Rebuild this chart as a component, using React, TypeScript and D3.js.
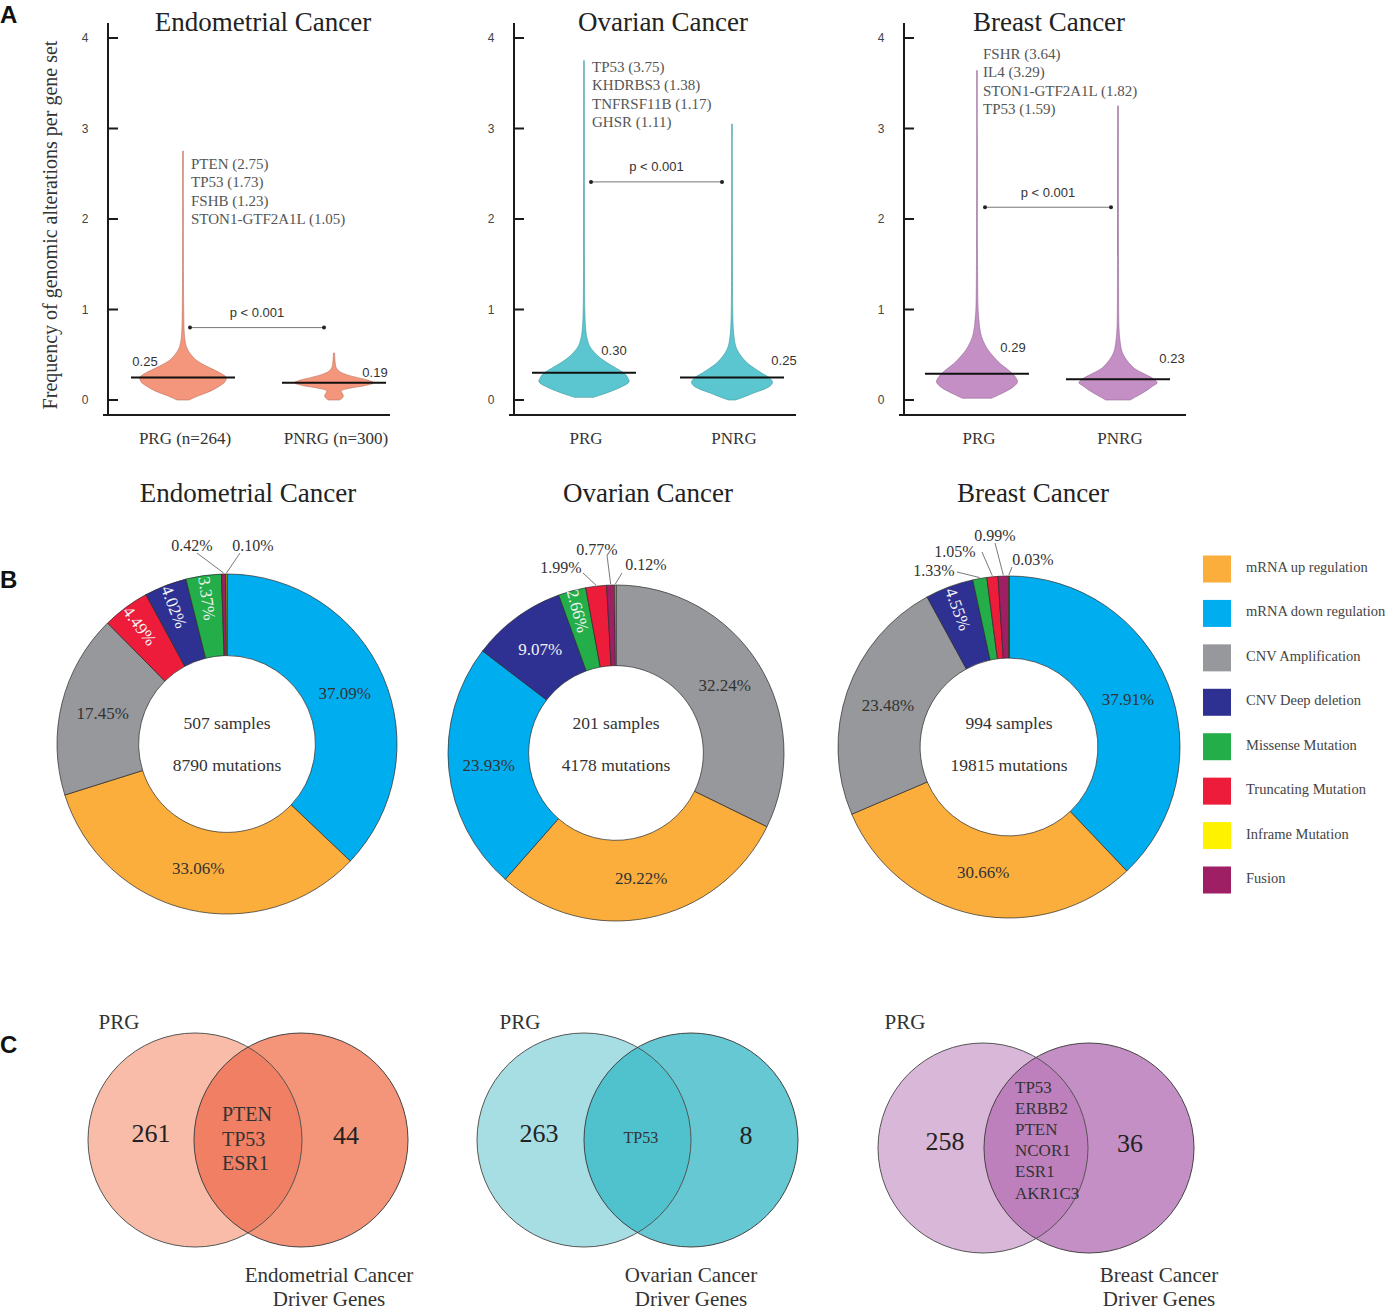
import React from "react";
import * as d3 from "d3";

const SERIF = "'Liberation Serif','Times New Roman',serif";
const SANS = "'Liberation Sans',Arial,sans-serif";

// ---------------- Panel A data ----------------
const cancerTypes = ["Endometrial Cancer", "Ovarian Cancer", "Breast Cancer"];
const groupLabelsEndo = ["PRG (n=264)", "PNRG (n=300)"];
const groupLabelsOvar = ["PRG", "PNRG"];
const groupLabelsBrca = ["PRG", "PNRG"];
const mediansEndo = [0.25, 0.19];
const mediansOvar = [0.3, 0.25];
const mediansBrca = [0.29, 0.23];
const medianLabelsEndo = ["0.25", "0.19"];
const medianLabelsOvar = ["0.30", "0.25"];
const medianLabelsBrca = ["0.29", "0.23"];
const topGenesEndo = ["PTEN (2.75)", "TP53 (1.73)", "FSHB (1.23)", "STON1-GTF2A1L (1.05)"];
const topGenesOvar = ["TP53 (3.75)", "KHDRBS3 (1.38)", "TNFRSF11B (1.17)", "GHSR (1.11)"];
const topGenesBrca = ["FSHR (3.64)", "IL4 (3.29)", "STON1-GTF2A1L (1.82)", "TP53 (1.59)"];
const yTicksA = [0, 1, 2, 3, 4];
const pValueLabel = "p < 0.001";
const bracketLevels = [0.8, 2.41, 2.13];
const yAxisTitle = "Frequency of genomic alterations per gene set";

// violin density profiles: [value, relative half-width]
const violinEndoPRG: [number, number][] = [
  [0, 0.13], [0.05, 0.36], [0.1, 0.62], [0.15, 0.8], [0.2, 0.93], [0.25, 0.96], [0.3, 0.82],
  [0.35, 0.62], [0.4, 0.42], [0.45, 0.27], [0.5, 0.18], [0.55, 0.11], [0.6, 0.07], [0.7, 0.035],
  [1.0, 0.016], [2.75, 0.009],
];
const violinEndoPNRG: [number, number][] = [
  [0, 0.12], [0.03, 0.2], [0.06, 0.2], [0.1, 0.16], [0.13, 0.35], [0.16, 0.7], [0.19, 0.88],
  [0.22, 0.75], [0.25, 0.5], [0.28, 0.28], [0.31, 0.14], [0.34, 0.07], [0.37, 0.04], [0.42, 0.025],
  [0.52, 0.012],
];
const violinOvarPRG: [number, number][] = [
  [0.03, 0.22], [0.06, 0.4], [0.1, 0.62], [0.15, 0.85], [0.2, 1.0], [0.25, 0.97], [0.3, 0.88],
  [0.35, 0.72], [0.4, 0.55], [0.45, 0.4], [0.5, 0.28], [0.55, 0.19], [0.6, 0.12], [0.7, 0.06],
  [0.8, 0.035], [1.0, 0.018], [1.5, 0.011], [3.75, 0.008],
];
const violinOvarPNRG: [number, number][] = [
  [0, 0.08], [0.04, 0.3], [0.08, 0.5], [0.12, 0.72], [0.16, 0.86], [0.2, 0.9], [0.25, 0.82],
  [0.3, 0.65], [0.35, 0.5], [0.4, 0.36], [0.45, 0.26], [0.5, 0.18], [0.55, 0.12], [0.6, 0.08],
  [0.7, 0.045], [0.8, 0.028], [1.0, 0.016], [3.05, 0.008],
];
const violinBrcaPRG: [number, number][] = [
  [0.02, 0.33], [0.06, 0.5], [0.1, 0.66], [0.15, 0.82], [0.2, 0.9], [0.25, 0.86], [0.3, 0.77],
  [0.35, 0.65], [0.4, 0.52], [0.45, 0.42], [0.5, 0.33], [0.55, 0.25], [0.6, 0.19], [0.7, 0.1],
  [0.8, 0.06], [0.9, 0.04], [1.0, 0.025], [1.5, 0.012], [3.64, 0.008],
];
const violinBrcaPNRG: [number, number][] = [
  [0, 0.27], [0.05, 0.45], [0.1, 0.62], [0.15, 0.76], [0.19, 0.87], [0.23, 0.8], [0.27, 0.66],
  [0.31, 0.5], [0.35, 0.36], [0.4, 0.26], [0.45, 0.18], [0.5, 0.12], [0.55, 0.08], [0.6, 0.06],
  [0.7, 0.035], [0.8, 0.022], [1.0, 0.015], [3.25, 0.008],
];

// ---------------- Panel B data ----------------
const alterationTypes = [
  "mRNA up regulation", "mRNA down regulation", "CNV Amplification", "CNV Deep deletion",
  "Missense Mutation", "Truncating Mutation", "Inframe Mutation", "Fusion",
];
const alterationColors = ["#FBAE3C", "#00AEEF", "#96989B", "#2E3192", "#23AE4A", "#ED1C3A", "#FFF200", "#9E1F63"];
const pieOrderEndo = ["mRNA down regulation", "mRNA up regulation", "CNV Amplification", "Truncating Mutation", "CNV Deep deletion", "Missense Mutation", "Fusion", "Inframe Mutation"];
const pieValuesEndo = [37.09, 33.06, 17.45, 4.49, 4.02, 3.37, 0.42, 0.1];
const pieOrderOvar = ["CNV Amplification", "mRNA up regulation", "mRNA down regulation", "CNV Deep deletion", "Missense Mutation", "Truncating Mutation", "Fusion", "Inframe Mutation"];
const pieValuesOvar = [32.24, 29.22, 23.93, 9.07, 2.66, 1.99, 0.77, 0.12];
const pieOrderBrca = ["mRNA down regulation", "mRNA up regulation", "CNV Amplification", "CNV Deep deletion", "Missense Mutation", "Truncating Mutation", "Fusion", "Inframe Mutation"];
const pieValuesBrca = [37.91, 30.66, 23.48, 4.55, 1.33, 1.05, 0.99, 0.03];
const sampleCounts = [507, 201, 994];
const mutationCounts = [8790, 4178, 19815];

// ---------------- Panel C data ----------------
const vennLeftCounts = [261, 263, 258];
const vennRightCounts = [44, 8, 36];
const vennSharedEndo = ["PTEN", "TP53", "ESR1"];
const vennSharedOvar = ["TP53"];
const vennSharedBrca = ["TP53", "ERBB2", "PTEN", "NCOR1", "ESR1", "AKR1C3"];
const vennLeftName = "PRG";
const vennRightNames = ["Endometrial Cancer", "Ovarian Cancer", "Breast Cancer"];

// ---------------- layout ----------------
const panelALayout = [
  { axisX: 108, offs: [75, 226], fill: "#F4967B", stroke: "#B9705C", geneX: 8, geneY: 164, titleX: 263,
    mlab: [[-38, -16], [41, -10]], bracket: [7, -10] },
  { axisX: 514, offs: [70, 218], fill: "#5CC6D0", stroke: "#3E98A0", geneX: 8, geneY: 67, titleX: 663,
    mlab: [[30, -22], [52, -17]], bracket: [7, -10] },
  { axisX: 904, offs: [73, 214], fill: "#C48FC4", stroke: "#946894", geneX: 6, geneY: 54, titleX: 1049,
    mlab: [[36, -26], [54, -21]], bracket: [8, -7] },
];
const panelAData = [
  { labels: groupLabelsEndo, med: mediansEndo, mlabels: medianLabelsEndo, genes: topGenesEndo, v: [violinEndoPRG, violinEndoPNRG] },
  { labels: groupLabelsOvar, med: mediansOvar, mlabels: medianLabelsOvar, genes: topGenesOvar, v: [violinOvarPRG, violinOvarPNRG] },
  { labels: groupLabelsBrca, med: mediansBrca, mlabels: medianLabelsBrca, genes: topGenesBrca, v: [violinBrcaPRG, violinBrcaPNRG] },
];

// label styles per slice: h = horizontal inside, r = rotated inside, o = outside [textDx, textDy, lineDx, lineDy]
const pieLayout = [
  { cx: 227, cy: 744, R: 170, titleX: 248,
    styles: ["h", "h", "h", "r", "r", "r", [-35, -199, -30, -191], [26, -199, 13, -191]] },
  { cx: 616, cy: 753, R: 168, titleX: 648,
    styles: ["h", "h", "h", "h", "r", [-55, -186, -33, -180], [-19, -204, -9, -198], [30, -189, 6, -180]] },
  { cx: 1009, cy: 747, R: 171, titleX: 1033,
    styles: ["h", "h", "h", "r", [-75, -177, -52, -175], [-54, -196, -27, -195], [-14, -212, -14, -204], [24, -188, 3, -180]] },
];
const pieCenterTextY = [723, 765];
const pieData = [
  { order: pieOrderEndo, values: pieValuesEndo },
  { order: pieOrderOvar, values: pieValuesOvar },
  { order: pieOrderBrca, values: pieValuesBrca },
];

const vennLayout = [
  { c1: 195, c2: 301, cy: 1140, r: 107, colors: ["#F8BCA8", "#F49479", "#F07F64"], lx: -44, rx: 45, gx: -26, gy: -26, gstep: 24.5, gsize: 20, prgX: 119, drvX: 329 },
  { c1: 584, c2: 691, cy: 1140, r: 107, colors: ["#A7DEE4", "#66C8D3", "#50C2CE"], lx: -45, rx: 55, gx: -14, gy: -3, gstep: 21, gsize: 16, prgX: 520, drvX: 691 },
  { c1: 983, c2: 1089, cy: 1148, r: 105, colors: ["#D8B7D9", "#C48FC4", "#BE80BD"], lx: -38, rx: 41, gx: -21, gy: -61, gstep: 21.2, gsize: 17, prgX: 905, drvX: 1159 },
];
const vennShared = [vennSharedEndo, vennSharedOvar, vennSharedBrca];

function PanelA({ idx }: { idx: number }) {
  const L = panelALayout[idx];
  const D = panelAData[idx];
  const y = d3.scaleLinear().domain([0, 4]).range([400, 38]);
  const w = d3.scaleLinear().domain([0, 1]).range([0, 45]);
  const xs = L.offs.map((o) => L.axisX + o);
  const area = (cx: number) =>
    d3.area<[number, number]>()
      .y((d) => y(d[0]))
      .x0((d) => cx - w(d[1]))
      .x1((d) => cx + w(d[1]))
      .curve(d3.curveCatmullRom);
  const by = y(bracketLevels[idx]);
  const bx0 = xs[0] + L.bracket[0];
  const bx1 = xs[1] + L.bracket[1];
  return (
    <g>
      <text x={L.titleX} y={31} textAnchor="middle" fontFamily={SERIF} fontSize={27} fill="#222">{cancerTypes[idx]}</text>
      <line x1={L.axisX} x2={L.axisX} y1={23} y2={415} stroke="#1a1a1a" strokeWidth={2} />
      <line x1={L.axisX - 5} x2={L.axisX + 282} y1={415} y2={415} stroke="#1a1a1a" strokeWidth={2} />
      {yTicksA.map((t) => (
        <g key={t}>
          <line x1={L.axisX} x2={L.axisX + 10} y1={y(t)} y2={y(t)} stroke="#1a1a1a" strokeWidth={2} />
          <text x={L.axisX - 23} y={y(t)} textAnchor="middle" dominantBaseline="central" fontFamily={SANS} fontSize={12} fill="#444">{t}</text>
        </g>
      ))}
      {D.v.map((prof, i) => (
        <path key={i} d={area(xs[i])(prof) || ""} fill={L.fill} stroke={L.stroke} strokeWidth={0.6} />
      ))}
      {D.med.map((m, i) => (
        <g key={i}>
          <line x1={xs[i] - 52} x2={xs[i] + 52} y1={y(m)} y2={y(m)} stroke="#111" strokeWidth={2} />
          <text x={xs[i] + L.mlab[i][0]} y={y(m) + L.mlab[i][1]} textAnchor="middle" dominantBaseline="central" fontFamily={SANS} fontSize={13} fill="#333">{D.mlabels[i]}</text>
        </g>
      ))}
      {D.genes.map((g, i) => (
        <text key={g} x={xs[0] + L.geneX} y={L.geneY + i * 18.3} dominantBaseline="central" fontFamily={SERIF} fontSize={15} fill="#555">{g}</text>
      ))}
      <line x1={bx0} x2={bx1} y1={by} y2={by} stroke="#777" strokeWidth={1} />
      <circle cx={bx0} cy={by} r={2} fill="#222" />
      <circle cx={bx1} cy={by} r={2} fill="#222" />
      <text x={(bx0 + bx1) / 2} y={by - 15} textAnchor="middle" dominantBaseline="central" fontFamily={SANS} fontSize={13} fill="#333">{pValueLabel}</text>
      {D.labels.map((l, i) => (
        <text key={l} x={xs[i] + 2} y={438} textAnchor="middle" dominantBaseline="central" fontFamily={SERIF} fontSize={17} fill="#333">{l}</text>
      ))}
    </g>
  );
}

type Slice = { name: string; v: number };

function PanelB({ idx }: { idx: number }) {
  const L = pieLayout[idx];
  const D = pieData[idx];
  const color = d3.scaleOrdinal<string, string>().domain(alterationTypes).range(alterationColors);
  const slices: Slice[] = D.order.map((n, i) => ({ name: n, v: D.values[i] }));
  const arcs = d3.pie<Slice>().sort(null).value((d) => d.v).startAngle(0).endAngle(2 * Math.PI)(slices);
  const ri = L.R * 0.52;
  const arc = d3.arc<d3.PieArcDatum<Slice>>().innerRadius(ri).outerRadius(L.R);
  const fmt = (v: number) => v.toFixed(2) + "%";
  return (
    <g>
      <text x={L.titleX} y={502} textAnchor="middle" fontFamily={SERIF} fontSize={27} fill="#222">{cancerTypes[idx]}</text>
      <g transform={`translate(${L.cx},${L.cy})`}>
        {arcs.map((a, i) => (
          <path key={i} d={arc(a) || ""} fill={color(a.data.name)} stroke="#2a2a2a" strokeWidth={0.7} />
        ))}
        {arcs.map((a, i) => {
          const st = L.styles[i];
          const mid = (a.startAngle + a.endAngle) / 2;
          const dark = a.data.name === "CNV Deep deletion" || a.data.name === "Truncating Mutation" || a.data.name === "Missense Mutation";
          const fill = dark ? "#F2F2F2" : "#333";
          if (st === "h") {
            const r = 128;
            return (
              <text key={i} x={Math.sin(mid) * r} y={-Math.cos(mid) * r} textAnchor="middle" dominantBaseline="central" fontFamily={SERIF} fontSize={17} fill={fill}>{fmt(a.data.v)}</text>
            );
          }
          if (st === "r") {
            const r = 147;
            const px = Math.sin(mid) * r;
            const py = -Math.cos(mid) * r;
            const rot = (Math.atan2(Math.cos(mid), -Math.sin(mid)) * 180) / Math.PI;
            return (
              <text key={i} transform={`translate(${px},${py}) rotate(${rot})`} textAnchor="middle" dominantBaseline="central" fontFamily={SERIF} fontSize={17} fill={fill}>{fmt(a.data.v)}</text>
            );
          }
          const o = st as number[];
          const ex = Math.sin(mid) * (L.R + 1);
          const ey = -Math.cos(mid) * (L.R + 1);
          return (
            <g key={i}>
              <line x1={o[2]} y1={o[3]} x2={ex} y2={ey} stroke="#555" strokeWidth={0.8} />
              <text x={o[0]} y={o[1]} textAnchor="middle" dominantBaseline="central" fontFamily={SERIF} fontSize={16} fill="#333">{fmt(a.data.v)}</text>
            </g>
          );
        })}
      </g>
      <text x={L.cx} y={pieCenterTextY[0]} textAnchor="middle" dominantBaseline="central" fontFamily={SERIF} fontSize={17.5} fill="#333">{`${sampleCounts[idx]} samples`}</text>
      <text x={L.cx} y={pieCenterTextY[1]} textAnchor="middle" dominantBaseline="central" fontFamily={SERIF} fontSize={17.5} fill="#333">{`${mutationCounts[idx]} mutations`}</text>
    </g>
  );
}

function Legend() {
  const y = d3.scalePoint<string>().domain(alterationTypes).range([569, 880]);
  const color = d3.scaleOrdinal<string, string>().domain(alterationTypes).range(alterationColors);
  return (
    <g>
      {alterationTypes.map((t) => (
        <g key={t}>
          <rect x={1203} y={(y(t) || 0) - 13.5} width={28} height={27} fill={color(t)} />
          <text x={1246} y={(y(t) || 0) - 2} dominantBaseline="central" fontFamily={SERIF} fontSize={14.5} fill="#444">{t}</text>
        </g>
      ))}
    </g>
  );
}

function PanelC({ idx }: { idx: number }) {
  const L = vennLayout[idx];
  const genes = vennShared[idx];
  const mid = (L.c1 + L.c2) / 2;
  const id = `vclip${idx}`;
  return (
    <g>
      <defs>
        <clipPath id={id}>
          <circle cx={L.c1} cy={L.cy} r={L.r} />
        </clipPath>
      </defs>
      <circle cx={L.c1} cy={L.cy} r={L.r} fill={L.colors[0]} />
      <circle cx={L.c2} cy={L.cy} r={L.r} fill={L.colors[1]} />
      <circle cx={L.c2} cy={L.cy} r={L.r} fill={L.colors[2]} clipPath={`url(#${id})`} />
      <circle cx={L.c1} cy={L.cy} r={L.r} fill="none" stroke="#555" strokeWidth={1} />
      <circle cx={L.c2} cy={L.cy} r={L.r} fill="none" stroke="#444" strokeWidth={1} />
      <text x={L.c1 + L.lx} y={L.cy - 7} textAnchor="middle" dominantBaseline="central" fontFamily={SERIF} fontSize={26} fill="#222">{vennLeftCounts[idx]}</text>
      <text x={L.c2 + L.rx} y={L.cy - 5} textAnchor="middle" dominantBaseline="central" fontFamily={SERIF} fontSize={26} fill="#222">{vennRightCounts[idx]}</text>
      {genes.map((g, i) => (
        <text key={g} x={mid + L.gx} y={L.cy + L.gy + i * L.gstep} dominantBaseline="central" fontFamily={SERIF} fontSize={L.gsize} fill="#333">{g}</text>
      ))}
      <text x={L.prgX} y={1022} textAnchor="middle" dominantBaseline="central" fontFamily={SERIF} fontSize={21} fill="#333">{vennLeftName}</text>
      <text x={L.drvX} y={1275} textAnchor="middle" dominantBaseline="central" fontFamily={SERIF} fontSize={21} fill="#333">{vennRightNames[idx]}</text>
      <text x={L.drvX} y={1299} textAnchor="middle" dominantBaseline="central" fontFamily={SERIF} fontSize={21} fill="#333">Driver Genes</text>
    </g>
  );
}

export default function App() {
  return (
    <svg width={1393} height={1311} viewBox="0 0 1393 1311" style={{ position: "absolute", left: 0, top: 0, background: "#fff" }}>
      <rect x={0} y={0} width={1393} height={1311} fill="#fff" />
      <text x={0} y={23} fontFamily={SANS} fontWeight="bold" fontSize={24} fill="#111">A</text>
      <text x={0} y={588} fontFamily={SANS} fontWeight="bold" fontSize={24} fill="#111">B</text>
      <text x={0} y={1053} fontFamily={SANS} fontWeight="bold" fontSize={24} fill="#111">C</text>
      <text transform="translate(50,225) rotate(-90)" textAnchor="middle" dominantBaseline="central" fontFamily={SERIF} fontSize={20} fill="#333">{yAxisTitle}</text>
      {[0, 1, 2].map((i) => <PanelA key={i} idx={i} />)}
      {[0, 1, 2].map((i) => <PanelB key={i} idx={i} />)}
      <Legend />
      {[0, 1, 2].map((i) => <PanelC key={i} idx={i} />)}
    </svg>
  );
}
